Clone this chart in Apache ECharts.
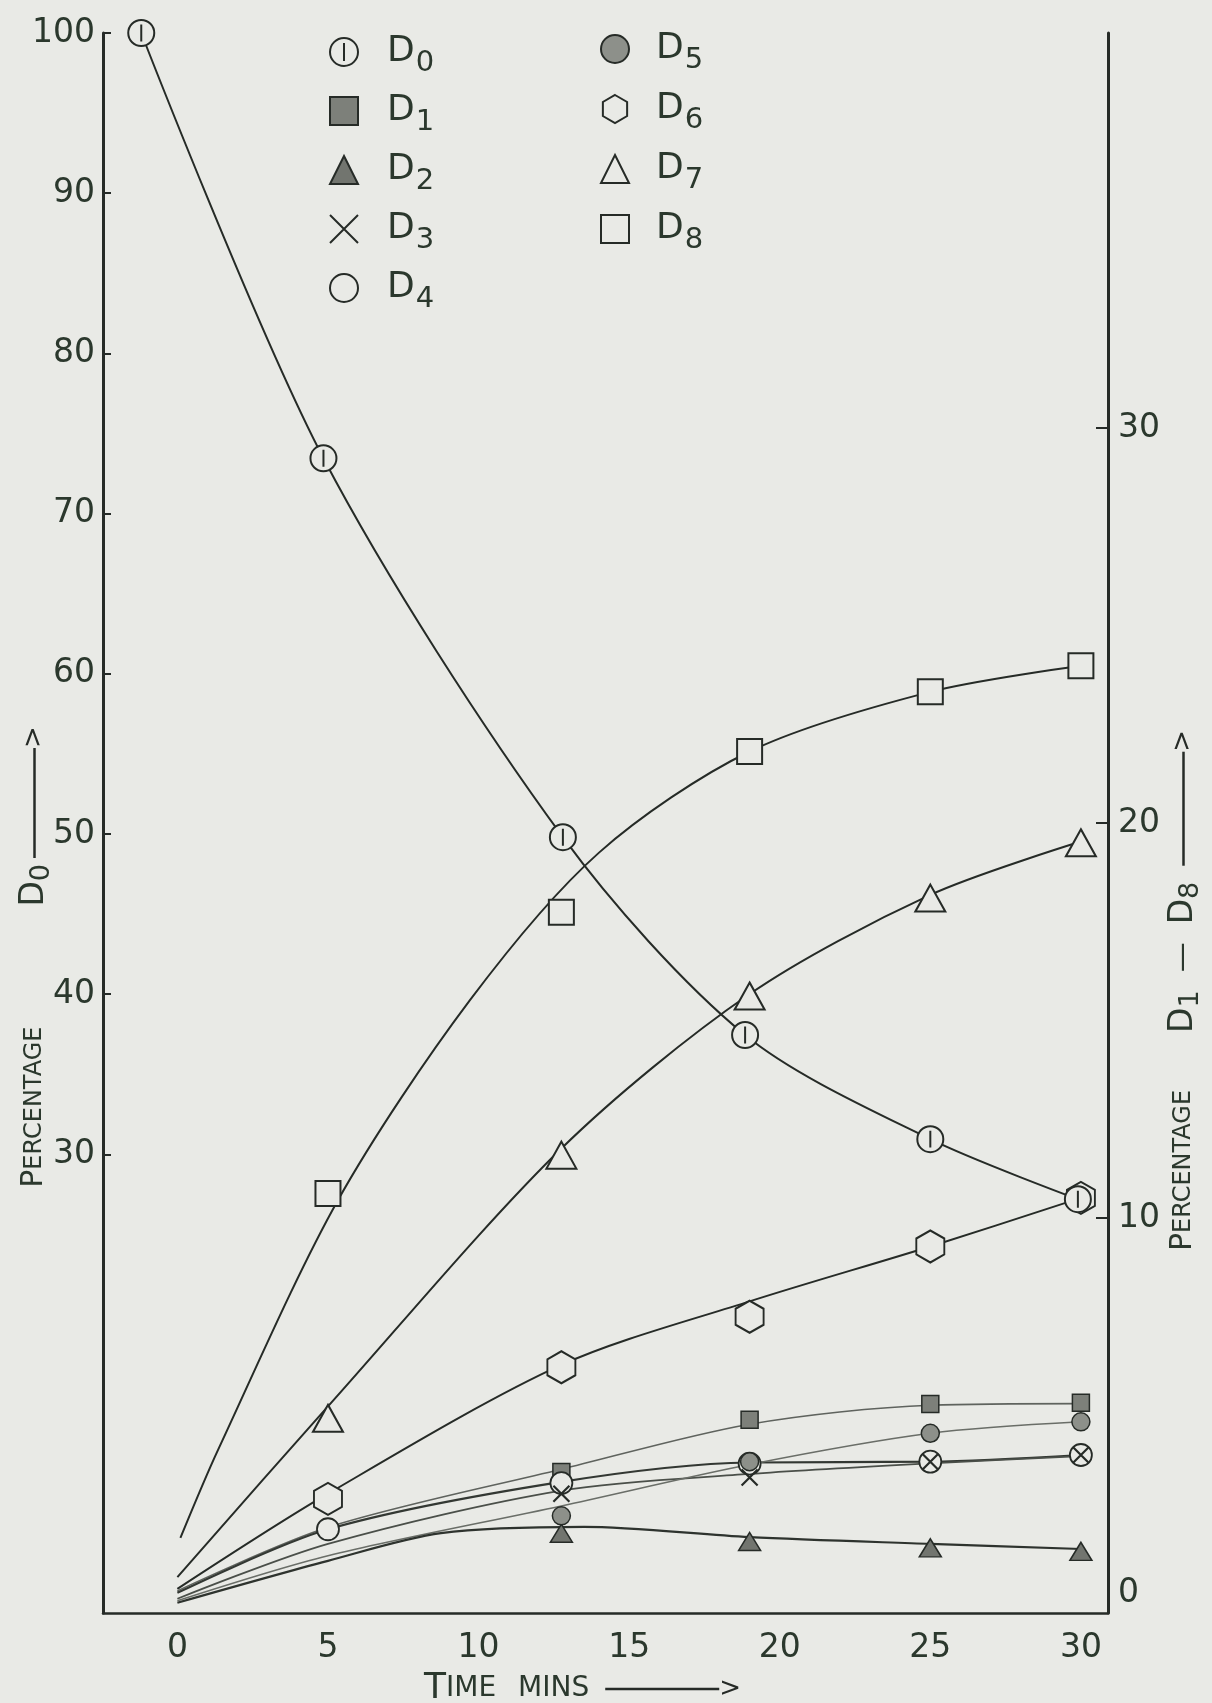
<!DOCTYPE html>
<html>
<head>
<meta charset="utf-8">
<script src="https://cdn.jsdelivr.net/npm/echarts@6/dist/echarts.min.js"></script>
<style>
html, body { margin: 0; padding: 0; background: #e9eae6; }
#chart { width: 1212px; height: 1703px; }
</style>
</head>
<body>
<div id="chart"></div>
<script>
// ---- measured values -------------------------------------------------
// D0 is plotted against the left axis, D1–D8 against the right axis.
const d0Times = [-1.2, 4.85, 12.8, 18.85, 25, 29.9];
const d0Pct   = [100, 73.45, 49.8, 37.45, 30.95, 27.2];

// sampling times for D1–D8 (minutes)
const sampleTimes = [5, 12.75, 19, 25, 30];
const d1Pct = [null, 3.57, 4.89, 5.29, 5.32];
const d2Pct = [null, 2.02, 1.81, 1.65, 1.56];
const d3Pct = [null, 3.02, 3.43, 3.83, 4.0];
const d4Pct = [2.12, 3.29, 3.78, 3.83, 4.0];
const d5Pct = [null, 2.46, 3.83, 4.55, 4.84];
const d6Pct = [2.89, 6.22, 7.50, 9.28, 10.51];
const d7Pct = [4.93, 11.59, 15.62, 18.10, 19.50];
const d8Pct = [10.62, 17.74, 21.81, 23.32, 23.98];

// hand-fitted smooth curves
const fitTimes = [0, 5, 12.75, 19, 25, 30];
const d1Fit = [0.56, 2.17, 3.64, 4.78, 5.26, 5.30];
const d3Fit = [0.36, 1.75, 3.10, 3.52, 3.79, 3.97];
const d4Fit = [0.51, 2.12, 3.32, 3.81, 3.83, 4.0];
const d5Fit = [0.31, 1.45, 2.71, 3.76, 4.55, 4.84];
const d6Fit = [0.61, 3.02, 6.28, 7.89, 9.28, 10.51];
const d7Fit = [0.91, 5.23, 11.76, 15.67, 18.18, 19.53];
const d2FitTimes = [0, 5, 8.75, 13.5, 19, 25, 30];
const d2Fit = [0.26, 1.32, 2.02, 2.18, 1.92, 1.75, 1.62];
const d8FitTimes = [0.1, 1.35, 5.33, 9.72, 14, 19, 25, 30];
const d8Fit = [1.90, 4.13, 10.45, 15.52, 19.25, 21.81, 23.32, 23.98];

// axis tick labels
const timeTicks = [0, 5, 10, 15, 20, 25, 30];
const leftTicks = [30, 40, 50, 60, 70, 80, 90, 100];
const rightLabels = [0, 10, 20, 30];
const rightTicks = [10, 20, 30];

// ---- styling --------------------------------------------------------------
const INK = '#262b27';
const TEXT = '#2b382d';
const PAPER = '#e9eae6';
const FONT = 'DejaVu Sans, sans-serif';

function pairs(xs, ys) {
  return xs.map((x, i) => [x, ys[i]]).filter(p => p[1] != null);
}

const SYM = {
  barCircle: 'path://M10,0A10,10,0,1,1,9.99,0ZM10,3.5L10,16.5',
  cross: 'path://M0,0L16,16M16,0L0,16',
  hexagon: 'path://M10,0L18.66,5L18.66,15L10,20L1.34,15L1.34,5Z'
};

const markers = [
  { name: 'D0', t: d0Times, v: d0Pct, axis: 0, symbol: SYM.barCircle, size: 26, fill: PAPER, bw: 2, z: 5 },
  { name: 'D1', t: sampleTimes, v: d1Pct, axis: 1, symbol: 'rect', size: 17, fill: '#7d807a', bw: 1.5, z: 3 },
  { name: 'D2', t: sampleTimes, v: d2Pct, axis: 1, symbol: 'triangle', size: [22, 18], fill: '#72756f', bw: 1.5, z: 3 },
  { name: 'D3', t: sampleTimes, v: d3Pct, axis: 1, symbol: SYM.cross, size: 16, fill: 'rgba(0,0,0,0)', bw: 2.2, z: 4 },
  { name: 'D4', t: sampleTimes, v: d4Pct, axis: 1, symbol: 'circle', size: 22, fill: PAPER, bw: 1.8, z: 3 },
  { name: 'D5', t: sampleTimes, v: d5Pct, axis: 1, symbol: 'circle', size: 18, fill: '#8d908a', bw: 1.5, z: 3 },
  { name: 'D6', t: sampleTimes, v: d6Pct, axis: 1, symbol: SYM.hexagon, size: [28, 32], fill: PAPER, bw: 2, z: 3 },
  { name: 'D7', t: sampleTimes, v: d7Pct, axis: 1, symbol: 'triangle', size: [30, 27], fill: PAPER, bw: 2, z: 3 },
  { name: 'D8', t: sampleTimes, v: d8Pct, axis: 1, symbol: 'rect', size: 25, fill: PAPER, bw: 2, z: 3 }
];

const fits = [
  { name: 'D0 fit', t: d0Times, v: d0Pct, axis: 0, color: INK, width: 2 },
  { name: 'D8 fit', t: d8FitTimes, v: d8Fit, axis: 1, color: INK, width: 2 },
  { name: 'D7 fit', t: fitTimes, v: d7Fit, axis: 1, color: INK, width: 2 },
  { name: 'D6 fit', t: fitTimes, v: d6Fit, axis: 1, color: INK, width: 2 },
  { name: 'D1 fit', t: fitTimes, v: d1Fit, axis: 1, color: '#5f635e', width: 1.6 },
  { name: 'D4 fit', t: fitTimes, v: d4Fit, axis: 1, color: '#333833', width: 2.2 },
  { name: 'D3 fit', t: fitTimes, v: d3Fit, axis: 1, color: '#4a4f49', width: 1.8 },
  { name: 'D5 fit', t: fitTimes, v: d5Fit, axis: 1, color: '#6a6e68', width: 1.5 },
  { name: 'D2 fit', t: d2FitTimes, v: d2Fit, axis: 1, color: '#2e332e', width: 2.2 }
];

const series = [];
fits.forEach(f => series.push({
  name: f.name,
  type: 'line',
  yAxisIndex: f.axis,
  data: pairs(f.t, f.v),
  smooth: 0.3,
  symbol: 'none',
  silent: true,
  z: 2,
  lineStyle: { color: f.color, width: f.width }
}));
markers.forEach(m => series.push({
  name: m.name,
  type: 'scatter',
  yAxisIndex: m.axis,
  data: pairs(m.t, m.v),
  symbol: m.symbol,
  symbolSize: m.size,
  symbolKeepAspect: false,
  silent: true,
  z: m.z,
  itemStyle: { color: m.fill, borderColor: INK, borderWidth: m.bw, opacity: 1 }
}));

function legendBlock(names, left, top, gap, textPad) {
  return {
    orient: 'vertical',
    left: left,
    top: top,
    padding: 0,
    itemWidth: 28,
    itemHeight: 28,
    itemGap: gap,
    selectedMode: false,
    data: names,
    formatter: n => '{d|D}{s|' + n.slice(1) + '}',
    textStyle: {
      color: TEXT,
      fontFamily: FONT,
      rich: {
        d: { fontSize: 36, lineHeight: 36, verticalAlign: 'top', padding: [0, 0, 0, textPad], color: TEXT, fontFamily: FONT },
        s: { fontSize: 29, lineHeight: 29, verticalAlign: 'top', padding: [15, 0, 0, 1], color: TEXT, fontFamily: FONT }
      }
    }
  };
}

function nameRich(capBig, capSmall, shaftLen) {
  return {
    P: { fontSize: capBig, fontFamily: FONT, color: TEXT },
    c: { fontSize: capSmall, fontFamily: FONT, color: TEXT },
    d: { fontSize: 33, fontFamily: FONT, color: TEXT },
    s: { fontSize: 27, fontFamily: FONT, color: TEXT, padding: [14, 0, 0, 0] },
    dash: { fontSize: 30, fontFamily: FONT, color: TEXT, padding: [0, 18, 0, 18] },
    g1: { width: 120 },
    g2: { width: 6 },
    g3: { width: 57 },
    g4: { width: 22 },
    g5: { width: 16 },
    shaft: { width: shaftLen, height: 2.5, backgroundColor: INK },
    head: { fontSize: 26, fontFamily: FONT, color: INK }
  };
}

const option = {
  backgroundColor: PAPER,
  animation: false,
  grid: { left: 103, right: 104, top: 33, bottom: 90, containLabel: false, outerBoundsMode: 'none' },
  legend: [
    legendBlock(['D0', 'D1', 'D2', 'D3', 'D4'], 329, 34, 15, 24),
    legendBlock(['D5', 'D6', 'D7', 'D8'], 600, 31, 16, 22)
  ],
  xAxis: {
    type: 'value',
    min: -2.47,
    max: 30.9,
    axisLine: { show: true, onZero: false, lineStyle: { color: INK, width: 2.5 } },
    axisTick: { show: false },
    splitLine: { show: false },
    axisLabel: {
      customValues: timeTicks,
      margin: 19,
      fontSize: 33,
      fontFamily: FONT,
      color: TEXT
    },
    name: '{P|T}{c|IME}{g4| }{c|MINS}{g5| }{shaft| }{head|>}',
    nameLocation: 'middle',
    nameGap: 58,
    nameMoveOverlap: false,
    nameTextStyle: { padding: [0, 46, 0, 0], rich: nameRich(36, 28, 114) }
  },
  yAxis: [
    {
      type: 'value',
      position: 'left',
      min: 1.37,
      max: 100,
      axisLine: { show: true, onZero: false, lineStyle: { color: INK, width: 3 } },
      axisTick: { show: true, inside: true, length: 8, customValues: leftTicks, lineStyle: { color: INK, width: 2 } },
      splitLine: { show: false },
      axisLabel: {
        customValues: leftTicks,
        margin: 8,
        fontSize: 33,
        fontFamily: FONT,
        color: TEXT
      },
      name: '{P|P}{c|ERCENTAGE}{g1| }{d|D}{s|0}{g2| }{shaft| }{head|>}',
      nameLocation: 'middle',
      nameRotate: 90,
      nameGap: 48,
      nameMoveOverlap: false,
      nameTextStyle: { padding: [0, 268, 0, 0], rich: nameRich(30, 24, 110) }
    },
    {
      type: 'value',
      position: 'right',
      min: 0,
      max: 40,
      axisLine: { show: true, onZero: false, lineStyle: { color: INK, width: 3 } },
      axisTick: { show: true, inside: true, length: 12, customValues: rightTicks, lineStyle: { color: INK, width: 2 } },
      splitLine: { show: false },
      axisLabel: {
        customValues: rightLabels,
        margin: 10,
        fontSize: 33,
        fontFamily: FONT,
        color: TEXT,
        formatter: v => (v === 0 ? '{z|0}' : String(v)),
        rich: { z: { fontSize: 33, fontFamily: FONT, color: TEXT, padding: [0, 0, 40, 0] } }
      },
      name: '{P|P}{c|ERCENTAGE}{g3| }{d|D}{s|1}{dash|—}{d|D}{s|8}{g5| }{shaft| }{head|>}',
      nameLocation: 'middle',
      nameRotate: 90,
      nameGap: 55,
      nameMoveOverlap: false,
      nameTextStyle: { padding: [0, 335, 0, 0], rich: nameRich(30, 24, 114) }
    }
  ],
  series: series
};

const chart = echarts.init(document.getElementById('chart'));
chart.setOption(option);
</script>
</body>
</html>
